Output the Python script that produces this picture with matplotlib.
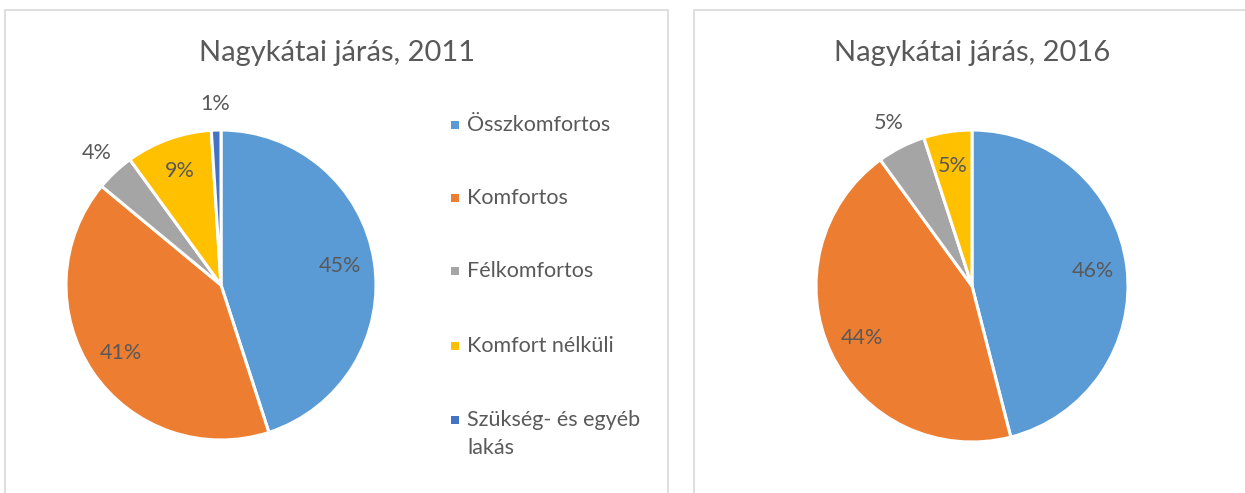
import matplotlib
matplotlib.use("Agg")
import matplotlib.pyplot as plt
from matplotlib.patches import Rectangle
import numpy as np

# Dwelling categories and their shares (%)
categories = ["Összkomfortos", "Komfortos", "Félkomfortos",
              "Komfort nélküli", "Szükség- és egyéb lakás"]
values_2011 = [45, 41, 4, 9, 1]
values_2016 = [46, 44, 5, 5]
titles = ["Nagykátai járás, 2011", "Nagykátai járás, 2016"]

colors = ["#5b9bd5", "#ed7d31", "#a5a5a5", "#ffc000", "#4472c4"]
text_color = "#595959"
font = ["Lato", "DejaVu Sans"]

# which percentage labels sit outside their slice
outside_2011 = [False, False, True, False, True]
outside_2016 = [False, False, True, False]

W, H = 1245, 493
fig = plt.figure(figsize=(W / 100, H / 100), dpi=100)
fig.patch.set_facecolor("white")


def px_rect(x0, y0, w, h):
    """Convert a pixel box (top-left origin) to figure fractions."""
    return [x0 / W, 1 - (y0 + h) / H, w / W, h / H]


# chart area frames
for x0, x1 in [(5, 668), (694, 1260)]:
    fig.patches.append(Rectangle((x0 / W, -0.1), (x1 - x0) / W, 1.1 - 10 / H,
                                 transform=fig.transFigure, fill=False,
                                 edgecolor="#d9d9d9", linewidth=1.2))


def draw_pie(cx, cy, r, values, outside, title, title_x):
    ax = fig.add_axes(px_rect(cx - r, cy - r, 2 * r, 2 * r))
    wedges, _ = ax.pie(values, colors=colors[:len(values)], startangle=90,
                       counterclock=False, radius=1,
                       wedgeprops=dict(edgecolor="white", linewidth=2.2))
    ax.set_xlim(-1, 1)
    ax.set_ylim(-1, 1)
    ax.set_aspect("equal")
    ax.axis("off")
    for w, v, out in zip(wedges, values, outside):
        mid = np.deg2rad((w.theta1 + w.theta2) / 2)
        d = 1.17 if out else 0.78
        ax.text(d * np.cos(mid), d * np.sin(mid), f"{v}%", ha="center",
                va="center", fontsize=15.5, color=text_color, family=font)
    fig.text(title_x / W, 1 - 53 / H, title, ha="center", va="center",
             fontsize=21, color=text_color, family=font)


draw_pie(221, 285, 155, values_2011, outside_2011, titles[0], 337)
draw_pie(972, 286, 156, values_2016, outside_2016, titles[1], 972)

# legend of the 2011 chart
legend_y = [125, 198, 271, 346, 420]
for cat, col, y in zip(categories, colors, legend_y):
    fig.patches.append(Rectangle((451 / W, 1 - (y + 4) / H), 8 / W, 8 / H,
                                 transform=fig.transFigure, facecolor=col,
                                 edgecolor="none"))
    label = cat.replace("egyéb ", "egyéb\n")
    fig.text(467 / W, 1 - (y - 10) / H, label, ha="left", va="top",
             fontsize=15.5, color=text_color, family=font, linespacing=1.5)

fig.savefig("out.png", dpi=100, facecolor="white")
